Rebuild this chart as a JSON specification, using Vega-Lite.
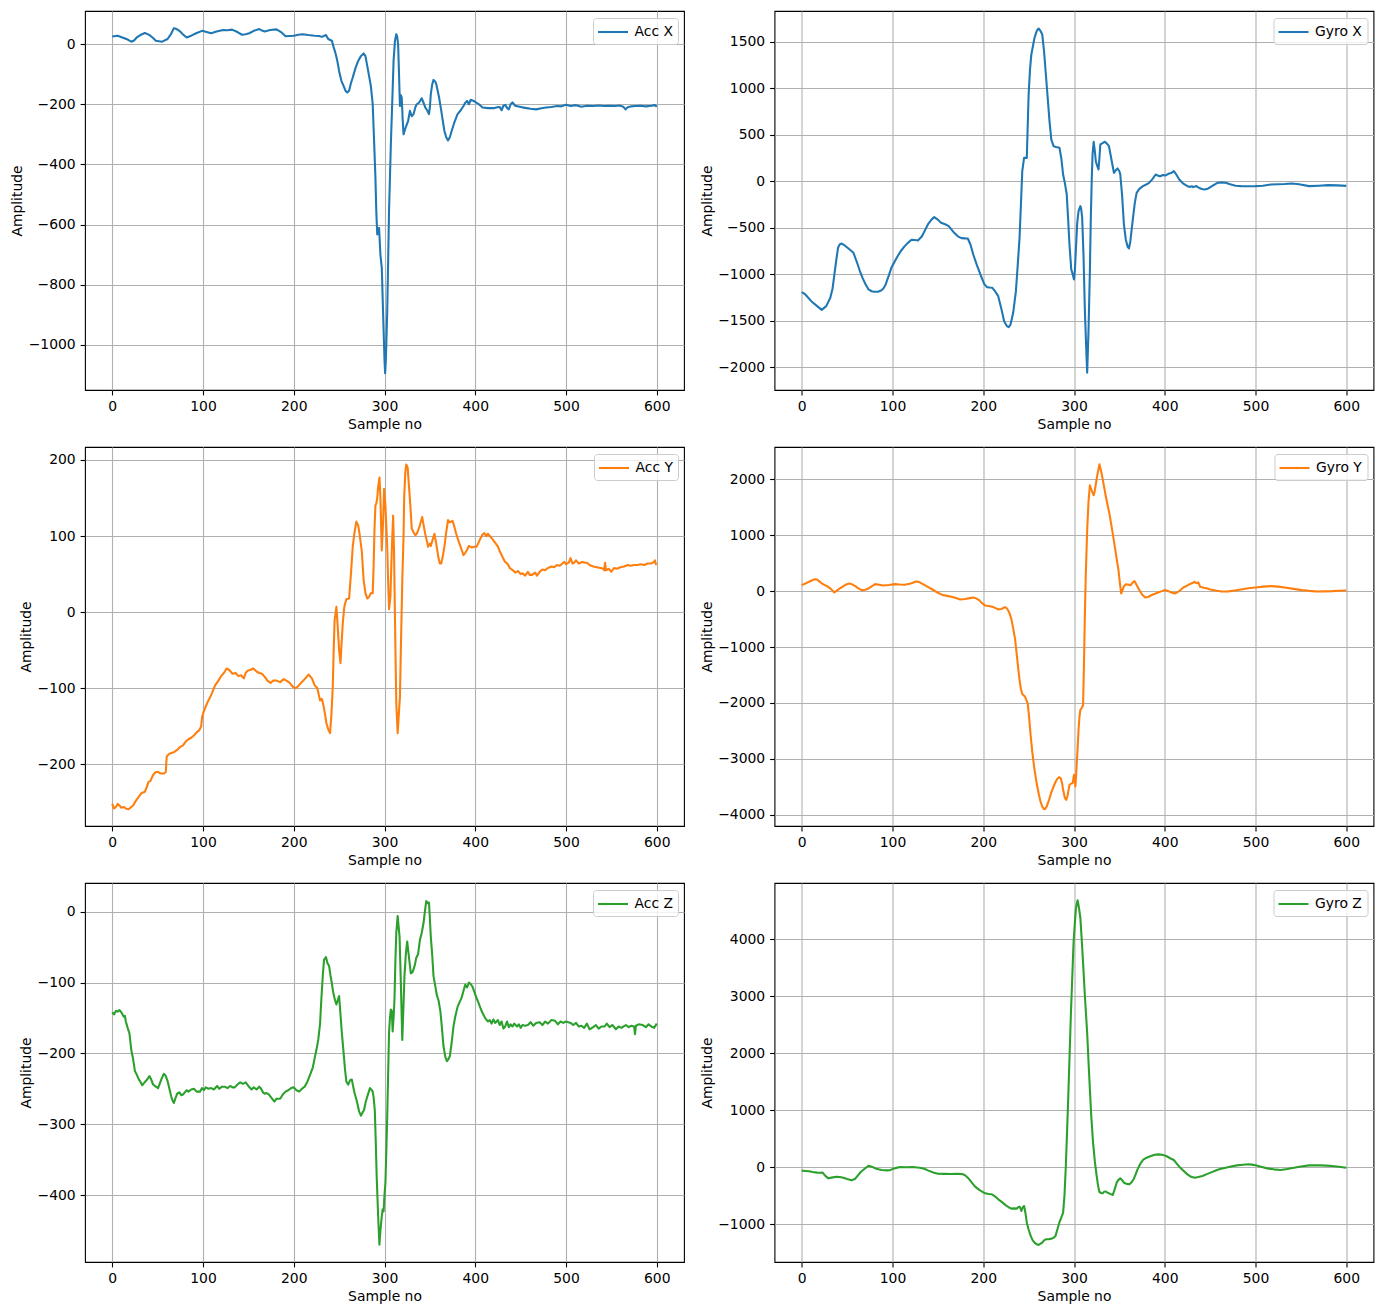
{
"$schema": "https://vega.github.io/schema/vega-lite/v6.json",
"background": "white",
"padding": {"left": 10, "top": 10, "right": 5, "bottom": 5},
"columns": 2,
"spacing": {"row": 14, "column": 14.5},
"resolve": {"scale": {"color": "independent"}, "legend": {"color": "independent"}},
"datasets": {
"accx": [{"x":0,"y":25},{"x":6,"y":28},{"x":12.6,"y":20},{"x":17,"y":15},{"x":21,"y":8},{"x":24,"y":12},{"x":27,"y":22},{"x":31,"y":30},{"x":36,"y":37},{"x":39,"y":33},{"x":42,"y":28},{"x":45,"y":20},{"x":48,"y":11},{"x":55,"y":8},{"x":61,"y":17},{"x":65,"y":35},{"x":68,"y":53},{"x":71,"y":50},{"x":74,"y":44},{"x":78,"y":32},{"x":82,"y":22},{"x":87,"y":28},{"x":92.5,"y":36},{"x":99,"y":44},{"x":104,"y":40},{"x":109,"y":36},{"x":115,"y":42},{"x":122,"y":47},{"x":127,"y":46},{"x":132,"y":48},{"x":138,"y":40},{"x":143,"y":31},{"x":147,"y":33},{"x":151,"y":36},{"x":156,"y":44},{"x":162,"y":50},{"x":165,"y":45},{"x":168,"y":42},{"x":174,"y":47},{"x":181,"y":49},{"x":186,"y":40},{"x":191,"y":26},{"x":195,"y":27},{"x":200,"y":28},{"x":205,"y":31},{"x":210,"y":33},{"x":216,"y":30},{"x":223,"y":28},{"x":228,"y":27},{"x":231,"y":24},{"x":235.5,"y":30},{"x":238,"y":17},{"x":242,"y":11},{"x":244,"y":-11},{"x":246,"y":-30},{"x":248,"y":-56},{"x":250,"y":-90},{"x":252.5,"y":-122},{"x":255,"y":-140},{"x":257,"y":-155},{"x":259,"y":-161},{"x":261,"y":-155},{"x":263,"y":-130},{"x":265,"y":-111},{"x":268,"y":-80},{"x":271,"y":-56},{"x":274,"y":-40},{"x":277,"y":-31},{"x":279,"y":-40},{"x":282,"y":-89},{"x":285,"y":-140},{"x":287,"y":-200},{"x":288.5,"y":-320},{"x":290,"y":-444},{"x":291,"y":-560},{"x":292,"y":-633},{"x":293,"y":-620},{"x":294,"y":-611},{"x":295.5,"y":-700},{"x":297,"y":-744},{"x":298.5,"y":-900},{"x":300,"y":-1050},{"x":300.7,"y":-1094},{"x":301.5,"y":-1050},{"x":303,"y":-889},{"x":305,"y":-556},{"x":307,"y":-333},{"x":309,"y":-150},{"x":310,"y":-56},{"x":311.5,"y":10},{"x":313,"y":33},{"x":314,"y":25},{"x":315,"y":0},{"x":316,"y":-100},{"x":317,"y":-206},{"x":318,"y":-170},{"x":319,"y":-178},{"x":320,"y":-250},{"x":321,"y":-300},{"x":323,"y":-280},{"x":326,"y":-256},{"x":328,"y":-222},{"x":330,"y":-240},{"x":332,"y":-233},{"x":334,"y":-210},{"x":335.5,"y":-200},{"x":338,"y":-195},{"x":341,"y":-180},{"x":343,"y":-195},{"x":345,"y":-211},{"x":347,"y":-220},{"x":349,"y":-233},{"x":350,"y":-210},{"x":351,"y":-167},{"x":352.5,"y":-135},{"x":354,"y":-119},{"x":356,"y":-125},{"x":357,"y":-133},{"x":360,"y":-175},{"x":362,"y":-211},{"x":364,"y":-250},{"x":366,"y":-289},{"x":368,"y":-310},{"x":370,"y":-320},{"x":372,"y":-310},{"x":374,"y":-289},{"x":377,"y":-260},{"x":380.5,"y":-233},{"x":384,"y":-220},{"x":387,"y":-206},{"x":389,"y":-195},{"x":391,"y":-189},{"x":393,"y":-200},{"x":395,"y":-185},{"x":399.5,"y":-191},{"x":404,"y":-200},{"x":408,"y":-211},{"x":414,"y":-213},{"x":420.5,"y":-213},{"x":424,"y":-210},{"x":427,"y":-209},{"x":429,"y":-220},{"x":431,"y":-205},{"x":433,"y":-202},{"x":435,"y":-212},{"x":437,"y":-217},{"x":439,"y":-200},{"x":441,"y":-194},{"x":444,"y":-205},{"x":450,"y":-209},{"x":455,"y":-212},{"x":461,"y":-215},{"x":467,"y":-217},{"x":473,"y":-213},{"x":478,"y":-211},{"x":484,"y":-209},{"x":490,"y":-206},{"x":495,"y":-207},{"x":500,"y":-202},{"x":505,"y":-206},{"x":511,"y":-203},{"x":517,"y":-208},{"x":523,"y":-205},{"x":530,"y":-206},{"x":536,"y":-204},{"x":542,"y":-206},{"x":548,"y":-205},{"x":554,"y":-206},{"x":559,"y":-204},{"x":563,"y":-208},{"x":565.6,"y":-217},{"x":568,"y":-210},{"x":572,"y":-207},{"x":576,"y":-206},{"x":582,"y":-205},{"x":588,"y":-207},{"x":594,"y":-205},{"x":598,"y":-203},{"x":600,"y":-208}],
"gyrox": [{"x":0,"y":-1190},{"x":4,"y":-1215},{"x":10.5,"y":-1287},{"x":17,"y":-1340},{"x":22,"y":-1380},{"x":27,"y":-1340},{"x":31.5,"y":-1251},{"x":34,"y":-1150},{"x":36,"y":-1000},{"x":38,"y":-850},{"x":40,"y":-713},{"x":42,"y":-675},{"x":44,"y":-667},{"x":47,"y":-685},{"x":50.5,"y":-713},{"x":57,"y":-767},{"x":61,"y":-874},{"x":64,"y":-960},{"x":67,"y":-1036},{"x":70,"y":-1100},{"x":73.6,"y":-1161},{"x":77,"y":-1180},{"x":80,"y":-1186},{"x":84,"y":-1185},{"x":87.5,"y":-1172},{"x":90,"y":-1150},{"x":92.5,"y":-1107},{"x":96,"y":-1010},{"x":99,"y":-921},{"x":105,"y":-814},{"x":109,"y":-750},{"x":113.5,"y":-695},{"x":117,"y":-660},{"x":121,"y":-627},{"x":125,"y":-630},{"x":128,"y":-634},{"x":132.5,"y":-588},{"x":136,"y":-520},{"x":139,"y":-462},{"x":143,"y":-410},{"x":146,"y":-383},{"x":150,"y":-410},{"x":153.5,"y":-444},{"x":158,"y":-460},{"x":162,"y":-480},{"x":168,"y":-552},{"x":172,"y":-590},{"x":176,"y":-609},{"x":180,"y":-612},{"x":183,"y":-613},{"x":186,"y":-680},{"x":189,"y":-785},{"x":193,"y":-900},{"x":197.6,"y":-1018},{"x":201,"y":-1100},{"x":204,"y":-1136},{"x":207,"y":-1140},{"x":210,"y":-1143},{"x":213,"y":-1180},{"x":216.5,"y":-1233},{"x":220,"y":-1370},{"x":223,"y":-1502},{"x":226,"y":-1555},{"x":228,"y":-1566},{"x":230,"y":-1540},{"x":233,"y":-1412},{"x":236,"y":-1179},{"x":238,"y":-900},{"x":240,"y":-606},{"x":241.5,"y":-250},{"x":243,"y":111},{"x":245,"y":254},{"x":248,"y":254},{"x":249,"y":600},{"x":250,"y":935},{"x":251.5,"y":1200},{"x":253,"y":1366},{"x":256.5,"y":1545},{"x":259,"y":1620},{"x":261,"y":1645},{"x":263,"y":1620},{"x":265,"y":1581},{"x":267,"y":1400},{"x":269,"y":1150},{"x":271,"y":900},{"x":273,"y":649},{"x":275,"y":450},{"x":277.5,"y":380},{"x":280,"y":370},{"x":284,"y":362},{"x":286,"y":250},{"x":288,"y":75},{"x":290,"y":-20},{"x":292,"y":-140},{"x":293.5,"y":-400},{"x":295,"y":-677},{"x":297,"y":-946},{"x":298.6,"y":-1000},{"x":300,"y":-1054},{"x":301,"y":-950},{"x":302,"y":-749},{"x":303.5,"y":-450},{"x":305,"y":-319},{"x":307,"y":-265},{"x":308,"y":-300},{"x":309,"y":-391},{"x":310.5,"y":-800},{"x":312,"y":-1395},{"x":313.5,"y":-1800},{"x":314.5,"y":-2057},{"x":316,"y":-1600},{"x":317.5,"y":-964},{"x":318.5,"y":-400},{"x":319.6,"y":39},{"x":320.5,"y":300},{"x":321.7,"y":427},{"x":323,"y":320},{"x":324,"y":220},{"x":325,"y":183},{"x":327,"y":129},{"x":328,"y":250},{"x":329,"y":398},{"x":331,"y":410},{"x":334,"y":427},{"x":336,"y":410},{"x":338.5,"y":380},{"x":341,"y":250},{"x":344,"y":93},{"x":346,"y":120},{"x":348,"y":140},{"x":350,"y":110},{"x":351,"y":75},{"x":353,"y":-150},{"x":355,"y":-462},{"x":357,"y":-620},{"x":359,"y":-700},{"x":360.5,"y":-720},{"x":362,"y":-650},{"x":365,"y":-391},{"x":367,"y":-230},{"x":369,"y":-122},{"x":372,"y":-80},{"x":376,"y":-50},{"x":380,"y":-30},{"x":382.7,"y":-14},{"x":386,"y":20},{"x":390,"y":75},{"x":393,"y":60},{"x":395,"y":57},{"x":398,"y":70},{"x":401,"y":65},{"x":404,"y":82},{"x":407,"y":90},{"x":410,"y":111},{"x":413,"y":70},{"x":416,"y":22},{"x":420,"y":-20},{"x":425,"y":-50},{"x":428,"y":-58},{"x":430,"y":-50},{"x":431,"y":-61},{"x":433,"y":-55},{"x":435,"y":-50},{"x":438,"y":-70},{"x":441,"y":-80},{"x":444,"y":-86},{"x":448,"y":-75},{"x":452,"y":-50},{"x":458,"y":-14},{"x":462,"y":-10},{"x":467,"y":-14},{"x":472,"y":-30},{"x":478,"y":-45},{"x":484,"y":-50},{"x":490,"y":-52},{"x":500,"y":-50},{"x":508,"y":-45},{"x":517,"y":-32},{"x":525,"y":-30},{"x":532,"y":-28},{"x":540,"y":-22},{"x":548,"y":-30},{"x":559,"y":-50},{"x":570,"y":-45},{"x":580,"y":-39},{"x":590,"y":-42},{"x":600,"y":-47}],
"accy": [{"x":0,"y":-252},{"x":2,"y":-258},{"x":4,"y":-256},{"x":6,"y":-252},{"x":8,"y":-254},{"x":10,"y":-257},{"x":12.6,"y":-256},{"x":15,"y":-258},{"x":18,"y":-259},{"x":21,"y":-256},{"x":23,"y":-254},{"x":26,"y":-248},{"x":29,"y":-243},{"x":32,"y":-238},{"x":36,"y":-236},{"x":38,"y":-230},{"x":40,"y":-223},{"x":42,"y":-222},{"x":45,"y":-214},{"x":48,"y":-210},{"x":50.5,"y":-210},{"x":53,"y":-212},{"x":57,"y":-212},{"x":59,"y":-210},{"x":60,"y":-190},{"x":62,"y":-187},{"x":65,"y":-185},{"x":68,"y":-184},{"x":71.5,"y":-181},{"x":75,"y":-177},{"x":78,"y":-175},{"x":81,"y":-170},{"x":84,"y":-167},{"x":87,"y":-165},{"x":90,"y":-162},{"x":93,"y":-158},{"x":96,"y":-155},{"x":98,"y":-150},{"x":99,"y":-138},{"x":101,"y":-130},{"x":103,"y":-124},{"x":106,"y":-116},{"x":109,"y":-109},{"x":111,"y":-103},{"x":113.5,"y":-96},{"x":117,"y":-90},{"x":120,"y":-84},{"x":123,"y":-80},{"x":126,"y":-74},{"x":129,"y":-76},{"x":132.5,"y":-81},{"x":136,"y":-80},{"x":139,"y":-84},{"x":142,"y":-83},{"x":145,"y":-87},{"x":147,"y":-80},{"x":149,"y":-77},{"x":152,"y":-76},{"x":155.5,"y":-74},{"x":159,"y":-78},{"x":162,"y":-80},{"x":165,"y":-81},{"x":168,"y":-85},{"x":171,"y":-90},{"x":174.5,"y":-93},{"x":177,"y":-90},{"x":181,"y":-90},{"x":185,"y":-92},{"x":189,"y":-88},{"x":192,"y":-90},{"x":195.5,"y":-93},{"x":199,"y":-98},{"x":202,"y":-100},{"x":205,"y":-97},{"x":208,"y":-93},{"x":212,"y":-88},{"x":216.5,"y":-82},{"x":220,"y":-87},{"x":223,"y":-96},{"x":226,"y":-100},{"x":229,"y":-116},{"x":231,"y":-114},{"x":233,"y":-124},{"x":235,"y":-138},{"x":236,"y":-146},{"x":238,"y":-154},{"x":240,"y":-159},{"x":241.5,"y":-135},{"x":243,"y":-98},{"x":244,"y":-50},{"x":245,"y":-11},{"x":247,"y":7},{"x":248.5,"y":-20},{"x":250,"y":-50},{"x":251.5,"y":-67},{"x":252.5,"y":-45},{"x":254,"y":-15},{"x":255.5,"y":5},{"x":256.5,"y":11},{"x":258,"y":17},{"x":261,"y":18},{"x":263,"y":50},{"x":265,"y":86},{"x":267,"y":105},{"x":269,"y":119},{"x":271,"y":114},{"x":272.5,"y":103},{"x":275,"y":80},{"x":277,"y":42},{"x":279,"y":25},{"x":281,"y":18},{"x":283,"y":20},{"x":285,"y":25},{"x":287,"y":25},{"x":288,"y":60},{"x":289,"y":110},{"x":290,"y":140},{"x":291,"y":143},{"x":292,"y":150},{"x":293,"y":165},{"x":294.5,"y":177},{"x":295.5,"y":150},{"x":297,"y":81},{"x":298.5,"y":120},{"x":299.5,"y":162},{"x":301,"y":140},{"x":303,"y":86},{"x":304,"y":40},{"x":305,"y":4},{"x":306.5,"y":20},{"x":308,"y":80},{"x":309.5,"y":127},{"x":310.5,"y":80},{"x":312,"y":-46},{"x":313,"y":-120},{"x":314.5,"y":-159},{"x":316,"y":-130},{"x":317,"y":-111},{"x":318,"y":-50},{"x":319.6,"y":42},{"x":321,"y":100},{"x":321.7,"y":152},{"x":323,"y":185},{"x":324,"y":194},{"x":325.5,"y":190},{"x":327,"y":165},{"x":328.5,"y":140},{"x":330,"y":110},{"x":332,"y":105},{"x":334,"y":101},{"x":336,"y":104},{"x":338.5,"y":112},{"x":341.5,"y":125},{"x":343,"y":115},{"x":345,"y":102},{"x":347,"y":92},{"x":348,"y":86},{"x":350,"y":90},{"x":351,"y":87},{"x":353,"y":95},{"x":355,"y":103},{"x":357,"y":90},{"x":359.5,"y":71},{"x":361,"y":64},{"x":362.5,"y":64},{"x":364,"y":72},{"x":366,"y":86},{"x":368,"y":105},{"x":370,"y":121},{"x":372,"y":118},{"x":375,"y":120},{"x":377,"y":112},{"x":379,"y":103},{"x":382,"y":92},{"x":385,"y":82},{"x":387,"y":75},{"x":389,"y":78},{"x":391,"y":82},{"x":393,"y":87},{"x":396,"y":85},{"x":399,"y":86},{"x":401.6,"y":86},{"x":405,"y":95},{"x":408,"y":102},{"x":410,"y":104},{"x":412,"y":100},{"x":414,"y":103},{"x":416,"y":100},{"x":419,"y":96},{"x":422.6,"y":90},{"x":425,"y":86},{"x":427,"y":80},{"x":429,"y":75},{"x":431,"y":70},{"x":433,"y":66},{"x":436,"y":63},{"x":438,"y":58},{"x":441.5,"y":55},{"x":444,"y":52},{"x":447,"y":54},{"x":450,"y":50},{"x":452,"y":51},{"x":455,"y":48},{"x":458,"y":53},{"x":460,"y":49},{"x":462.6,"y":49},{"x":466,"y":52},{"x":468,"y":48},{"x":471,"y":53},{"x":474,"y":56},{"x":477,"y":55},{"x":480,"y":58},{"x":484,"y":60},{"x":487,"y":59},{"x":490,"y":62},{"x":493,"y":61},{"x":496,"y":64},{"x":498,"y":66},{"x":500,"y":63},{"x":503,"y":65},{"x":505,"y":71},{"x":507,"y":64},{"x":509,"y":65},{"x":511,"y":68},{"x":514,"y":64},{"x":518,"y":66},{"x":521,"y":65},{"x":523,"y":65},{"x":526,"y":62},{"x":530,"y":60},{"x":534,"y":59},{"x":538,"y":58},{"x":541,"y":57},{"x":542,"y":55},{"x":543,"y":65},{"x":544,"y":55},{"x":547,"y":57},{"x":550,"y":53},{"x":551,"y":55},{"x":553,"y":58},{"x":556,"y":57},{"x":560,"y":59},{"x":564,"y":60},{"x":568,"y":62},{"x":571,"y":61},{"x":575,"y":62},{"x":579,"y":62},{"x":582,"y":63},{"x":586,"y":62},{"x":590,"y":64},{"x":594,"y":64},{"x":597,"y":66},{"x":598,"y":68},{"x":599,"y":63},{"x":600,"y":64}],
"gyroy": [{"x":0,"y":107},{"x":4,"y":135},{"x":8,"y":167},{"x":11,"y":190},{"x":14.7,"y":214},{"x":17,"y":205},{"x":19,"y":179},{"x":22,"y":140},{"x":25,"y":110},{"x":28,"y":89},{"x":32,"y":40},{"x":36,"y":-24},{"x":39,"y":15},{"x":42,"y":48},{"x":46,"y":90},{"x":49,"y":120},{"x":52.5,"y":137},{"x":55,"y":125},{"x":59,"y":89},{"x":62,"y":55},{"x":66,"y":18},{"x":70,"y":25},{"x":73.6,"y":48},{"x":77,"y":85},{"x":81,"y":125},{"x":85,"y":115},{"x":90,"y":101},{"x":96,"y":110},{"x":103,"y":125},{"x":108,"y":118},{"x":113.5,"y":113},{"x":119,"y":130},{"x":123,"y":155},{"x":126,"y":173},{"x":129,"y":165},{"x":133,"y":130},{"x":139,"y":77},{"x":145,"y":20},{"x":150,"y":-30},{"x":155.5,"y":-71},{"x":160,"y":-85},{"x":165,"y":-100},{"x":170,"y":-125},{"x":174.5,"y":-149},{"x":180,"y":-140},{"x":185,"y":-125},{"x":189,"y":-113},{"x":192,"y":-130},{"x":195.5,"y":-161},{"x":199,"y":-220},{"x":202,"y":-256},{"x":206,"y":-265},{"x":210,"y":-280},{"x":213,"y":-300},{"x":216.5,"y":-327},{"x":220,"y":-320},{"x":223,"y":-290},{"x":225,"y":-292},{"x":227,"y":-330},{"x":229,"y":-399},{"x":231,"y":-500},{"x":233,"y":-667},{"x":235,"y":-850},{"x":236,"y":-994},{"x":238,"y":-1300},{"x":240,"y":-1589},{"x":241.5,"y":-1750},{"x":243,"y":-1839},{"x":245,"y":-1870},{"x":246,"y":-1887},{"x":247.5,"y":-1950},{"x":249,"y":-2006},{"x":250.5,"y":-2250},{"x":252,"y":-2541},{"x":254,"y":-2870},{"x":256.5,"y":-3196},{"x":259,"y":-3450},{"x":261,"y":-3613},{"x":263,"y":-3760},{"x":265,"y":-3851},{"x":266.5,"y":-3890},{"x":268,"y":-3899},{"x":270,"y":-3850},{"x":272.5,"y":-3732},{"x":275,"y":-3600},{"x":277.5,"y":-3494},{"x":280,"y":-3400},{"x":282,"y":-3350},{"x":284,"y":-3327},{"x":285.5,"y":-3350},{"x":287,"y":-3450},{"x":288,"y":-3553},{"x":290,"y":-3700},{"x":291.5,"y":-3732},{"x":293,"y":-3650},{"x":295,"y":-3464},{"x":297,"y":-3440},{"x":298.6,"y":-3434},{"x":299.5,"y":-3330},{"x":300,"y":-3286},{"x":301,"y":-3400},{"x":301.5,"y":-3494},{"x":302.5,"y":-3250},{"x":303,"y":-3077},{"x":304,"y":-2800},{"x":305,"y":-2482},{"x":306,"y":-2250},{"x":307,"y":-2125},{"x":308.5,"y":-2090},{"x":310,"y":-2036},{"x":311,"y":-1300},{"x":312,"y":-399},{"x":313,"y":300},{"x":314.5,"y":1089},{"x":316,"y":1600},{"x":317.5,"y":1893},{"x":319,"y":1820},{"x":320.5,"y":1760},{"x":321.7,"y":1714},{"x":323,"y":1800},{"x":325,"y":2012},{"x":326,"y":2100},{"x":327,"y":2180},{"x":328,"y":2268},{"x":329,"y":2200},{"x":330.5,"y":2100},{"x":332.5,"y":1923},{"x":335,"y":1700},{"x":337,"y":1540},{"x":339,"y":1387},{"x":342,"y":1100},{"x":345,"y":792},{"x":347,"y":580},{"x":349,"y":375},{"x":350.5,"y":150},{"x":352,"y":-42},{"x":353.5,"y":20},{"x":355,"y":89},{"x":357,"y":120},{"x":359.5,"y":119},{"x":361,"y":110},{"x":362.5,"y":107},{"x":364.5,"y":150},{"x":366.6,"y":179},{"x":369,"y":110},{"x":372,"y":18},{"x":375,"y":-60},{"x":378.5,"y":-113},{"x":382,"y":-100},{"x":387,"y":-60},{"x":392,"y":-30},{"x":396,"y":-5},{"x":399.5,"y":18},{"x":404,"y":0},{"x":408,"y":-30},{"x":411,"y":-42},{"x":414,"y":-20},{"x":417,"y":15},{"x":420.5,"y":65},{"x":424,"y":95},{"x":427,"y":120},{"x":429,"y":137},{"x":431,"y":150},{"x":433,"y":167},{"x":435,"y":140},{"x":437,"y":155},{"x":439,"y":77},{"x":443,"y":60},{"x":447,"y":45},{"x":450,"y":30},{"x":456,"y":10},{"x":462.6,"y":-6},{"x":470,"y":-5},{"x":477,"y":10},{"x":484,"y":30},{"x":492,"y":50},{"x":500,"y":65},{"x":508,"y":80},{"x":517,"y":89},{"x":525,"y":80},{"x":534,"y":60},{"x":542,"y":40},{"x":551,"y":18},{"x":559,"y":5},{"x":568,"y":-6},{"x":576,"y":-4},{"x":584.5,"y":0},{"x":592,"y":8},{"x":600,"y":12}],
"accz": [{"x":0,"y":-142},{"x":2,"y":-145},{"x":4,"y":-140},{"x":6,"y":-141},{"x":8,"y":-139},{"x":10,"y":-142},{"x":12.6,"y":-148},{"x":14,"y":-147},{"x":15,"y":-155},{"x":17,"y":-164},{"x":19,"y":-172},{"x":21,"y":-195},{"x":23,"y":-208},{"x":25,"y":-225},{"x":27,"y":-230},{"x":29.4,"y":-237},{"x":31,"y":-240},{"x":33,"y":-245},{"x":35,"y":-242},{"x":37,"y":-239},{"x":39,"y":-236},{"x":41,"y":-232},{"x":43,"y":-237},{"x":45,"y":-244},{"x":48,"y":-247},{"x":50.5,"y":-249},{"x":52,"y":-244},{"x":54,"y":-237},{"x":56,"y":-231},{"x":57,"y":-229},{"x":59,"y":-232},{"x":61,"y":-239},{"x":63,"y":-250},{"x":65,"y":-261},{"x":67,"y":-268},{"x":68,"y":-270},{"x":70,"y":-262},{"x":71.5,"y":-257},{"x":74,"y":-255},{"x":76,"y":-259},{"x":78,"y":-258},{"x":80,"y":-255},{"x":82,"y":-252},{"x":84,"y":-254},{"x":87,"y":-251},{"x":90,"y":-250},{"x":93,"y":-254},{"x":96.7,"y":-254},{"x":99,"y":-249},{"x":101,"y":-252},{"x":103,"y":-248},{"x":106,"y":-250},{"x":109,"y":-249},{"x":112,"y":-251},{"x":115.6,"y":-246},{"x":118,"y":-250},{"x":121,"y":-247},{"x":124,"y":-247},{"x":127,"y":-249},{"x":130,"y":-246},{"x":132.5,"y":-248},{"x":135,"y":-248},{"x":138,"y":-244},{"x":141,"y":-241},{"x":144,"y":-243},{"x":147,"y":-241},{"x":150,"y":-246},{"x":153.5,"y":-251},{"x":156,"y":-248},{"x":159,"y":-251},{"x":162,"y":-247},{"x":164,"y":-250},{"x":166,"y":-255},{"x":168,"y":-257},{"x":170,"y":-256},{"x":172.5,"y":-258},{"x":175,"y":-262},{"x":178.7,"y":-268},{"x":181,"y":-264},{"x":185,"y":-264},{"x":188,"y":-258},{"x":191,"y":-254},{"x":194,"y":-252},{"x":197,"y":-249},{"x":200,"y":-248},{"x":203,"y":-252},{"x":206,"y":-254},{"x":209,"y":-250},{"x":212,"y":-247},{"x":215,"y":-240},{"x":218.7,"y":-228},{"x":221,"y":-220},{"x":223,"y":-207},{"x":225,"y":-195},{"x":227,"y":-181},{"x":229,"y":-158},{"x":230.4,"y":-124},{"x":232,"y":-90},{"x":233.4,"y":-68},{"x":235.5,"y":-64},{"x":237,"y":-72},{"x":239,"y":-77},{"x":240.5,"y":-90},{"x":242,"y":-101},{"x":243,"y":-110},{"x":244,"y":-117},{"x":245.5,"y":-125},{"x":247,"y":-131},{"x":248.5,"y":-125},{"x":250,"y":-119},{"x":251.5,"y":-145},{"x":253,"y":-171},{"x":255,"y":-200},{"x":256.5,"y":-223},{"x":258,"y":-240},{"x":260,"y":-244},{"x":262,"y":-238},{"x":264,"y":-237},{"x":266,"y":-250},{"x":267,"y":-256},{"x":269,"y":-265},{"x":270,"y":-270},{"x":272,"y":-282},{"x":274,"y":-288},{"x":276,"y":-283},{"x":277.5,"y":-280},{"x":279,"y":-270},{"x":281,"y":-261},{"x":283,"y":-253},{"x":284,"y":-249},{"x":286,"y":-252},{"x":287,"y":-254},{"x":288,"y":-262},{"x":289.3,"y":-280},{"x":290.5,"y":-330},{"x":291.4,"y":-374},{"x":293,"y":-430},{"x":294.4,"y":-470},{"x":295.5,"y":-450},{"x":297,"y":-430},{"x":298,"y":-420},{"x":299,"y":-423},{"x":300,"y":-400},{"x":301,"y":-383},{"x":302,"y":-340},{"x":303,"y":-289},{"x":304,"y":-230},{"x":305,"y":-171},{"x":306,"y":-150},{"x":307,"y":-138},{"x":308,"y":-140},{"x":309,"y":-169},{"x":310,"y":-150},{"x":311,"y":-124},{"x":312,"y":-70},{"x":313,"y":-30},{"x":314.5,"y":-6},{"x":315.5,"y":-20},{"x":316.6,"y":-35},{"x":318,"y":-100},{"x":319.6,"y":-181},{"x":321,"y":-130},{"x":322,"y":-91},{"x":323.5,"y":-60},{"x":325,"y":-42},{"x":327,"y":-65},{"x":329,"y":-87},{"x":331,"y":-85},{"x":332,"y":-81},{"x":333.5,"y":-75},{"x":335,"y":-65},{"x":337,"y":-60},{"x":339,"y":-40},{"x":341,"y":-30},{"x":343,"y":-16},{"x":344.5,"y":0},{"x":346,"y":15},{"x":347.5,"y":12},{"x":349,"y":13},{"x":350,"y":-10},{"x":351,"y":-35},{"x":352.5,"y":-60},{"x":354,"y":-91},{"x":356,"y":-105},{"x":357.5,"y":-117},{"x":359.5,"y":-125},{"x":361.6,"y":-141},{"x":363,"y":-160},{"x":365,"y":-190},{"x":367,"y":-205},{"x":368.8,"y":-211},{"x":370,"y":-209},{"x":372,"y":-204},{"x":374,"y":-185},{"x":376,"y":-162},{"x":378,"y":-148},{"x":380.6,"y":-134},{"x":383,"y":-127},{"x":384.8,"y":-122},{"x":387,"y":-112},{"x":389,"y":-103},{"x":391,"y":-107},{"x":393,"y":-100},{"x":395,"y":-102},{"x":397,"y":-106},{"x":399.5,"y":-115},{"x":401.5,"y":-122},{"x":403.7,"y":-129},{"x":406,"y":-137},{"x":408,"y":-143},{"x":410,"y":-148},{"x":412,"y":-152},{"x":414,"y":-155},{"x":416,"y":-153},{"x":418,"y":-158},{"x":420,"y":-152},{"x":422,"y":-157},{"x":425,"y":-153},{"x":427,"y":-160},{"x":429,"y":-155},{"x":431,"y":-165},{"x":433,"y":-162},{"x":435,"y":-155},{"x":437,"y":-163},{"x":439,"y":-159},{"x":441,"y":-162},{"x":443,"y":-158},{"x":446,"y":-162},{"x":448,"y":-159},{"x":450,"y":-164},{"x":452,"y":-160},{"x":455,"y":-161},{"x":458,"y":-160},{"x":461,"y":-156},{"x":464,"y":-161},{"x":467,"y":-157},{"x":471,"y":-156},{"x":474,"y":-160},{"x":477,"y":-155},{"x":480,"y":-158},{"x":484,"y":-153},{"x":488,"y":-154},{"x":491,"y":-159},{"x":494,"y":-155},{"x":497,"y":-157},{"x":500,"y":-155},{"x":505,"y":-157},{"x":508,"y":-160},{"x":511,"y":-157},{"x":514,"y":-162},{"x":517,"y":-161},{"x":520,"y":-164},{"x":523,"y":-158},{"x":526,"y":-166},{"x":530,"y":-163},{"x":533,"y":-160},{"x":536,"y":-165},{"x":539,"y":-162},{"x":542.5,"y":-162},{"x":545,"y":-158},{"x":548,"y":-163},{"x":551,"y":-160},{"x":555,"y":-166},{"x":558,"y":-162},{"x":561,"y":-164},{"x":563.5,"y":-162},{"x":566,"y":-160},{"x":569,"y":-163},{"x":572,"y":-161},{"x":575,"y":-162},{"x":576,"y":-173},{"x":577,"y":-161},{"x":580,"y":-159},{"x":584.5,"y":-160},{"x":588,"y":-163},{"x":591,"y":-159},{"x":594,"y":-162},{"x":597,"y":-164},{"x":600,"y":-158}],
"gyroz": [{"x":0,"y":-58},{"x":4,"y":-63},{"x":8,"y":-70},{"x":12,"y":-82},{"x":17,"y":-93},{"x":20,"y":-95},{"x":23,"y":-93},{"x":26,"y":-150},{"x":29.4,"y":-193},{"x":33,"y":-180},{"x":38,"y":-164},{"x":42,"y":-170},{"x":46,"y":-181},{"x":50,"y":-205},{"x":55,"y":-228},{"x":59,"y":-199},{"x":62,"y":-140},{"x":65,"y":-82},{"x":69,"y":-30},{"x":73.6,"y":29},{"x":78,"y":5},{"x":82,"y":-23},{"x":88,"y":-45},{"x":94.6,"y":-53},{"x":98,"y":-45},{"x":101,"y":-23},{"x":105,"y":-5},{"x":109,"y":6},{"x":115,"y":3},{"x":122,"y":5},{"x":130,"y":-6},{"x":135,"y":-25},{"x":139,"y":-53},{"x":145,"y":-90},{"x":150,"y":-111},{"x":157,"y":-115},{"x":164.5,"y":-117},{"x":171,"y":-115},{"x":177,"y":-117},{"x":180,"y":-140},{"x":183,"y":-181},{"x":187,"y":-260},{"x":191,"y":-339},{"x":196,"y":-400},{"x":202,"y":-456},{"x":206,"y":-468},{"x":209.4,"y":-473},{"x":213,"y":-510},{"x":216.6,"y":-561},{"x":221,"y":-615},{"x":225,"y":-666},{"x":228,"y":-700},{"x":231,"y":-724},{"x":234,"y":-720},{"x":236.8,"y":-724},{"x":238.5,"y":-700},{"x":240,"y":-689},{"x":241,"y":-720},{"x":242,"y":-765},{"x":243.5,"y":-700},{"x":245,"y":-678},{"x":246.5,"y":-800},{"x":248,"y":-970},{"x":250,"y":-1090},{"x":252.3,"y":-1203},{"x":254.5,"y":-1280},{"x":256.5,"y":-1320},{"x":259,"y":-1350},{"x":261,"y":-1361},{"x":263,"y":-1340},{"x":265,"y":-1320},{"x":267,"y":-1280},{"x":269,"y":-1262},{"x":272,"y":-1260},{"x":275.4,"y":-1250},{"x":277.5,"y":-1235},{"x":279.6,"y":-1203},{"x":281.5,"y":-1100},{"x":283.8,"y":-970},{"x":286,"y":-880},{"x":288,"y":-794},{"x":289.5,"y":-500},{"x":291,"y":23},{"x":292.3,"y":600},{"x":293.6,"y":1192},{"x":295,"y":1900},{"x":296.5,"y":2652},{"x":298,"y":3300},{"x":299.5,"y":3937},{"x":301,"y":4300},{"x":302,"y":4521},{"x":303,"y":4620},{"x":304,"y":4684},{"x":305.5,"y":4550},{"x":307,"y":4375},{"x":308.5,"y":4000},{"x":310,"y":3586},{"x":312,"y":3000},{"x":314.5,"y":2360},{"x":316,"y":1850},{"x":317.5,"y":1367},{"x":319,"y":900},{"x":321,"y":432},{"x":323,"y":100},{"x":325,"y":-152},{"x":326.5,"y":-320},{"x":328,"y":-432},{"x":330,"y":-450},{"x":331.6,"y":-456},{"x":333,"y":-430},{"x":334.5,"y":-421},{"x":336.5,"y":-440},{"x":338.6,"y":-456},{"x":340.5,"y":-470},{"x":342.7,"y":-485},{"x":344.5,"y":-400},{"x":347,"y":-269},{"x":349,"y":-220},{"x":351,"y":-193},{"x":353,"y":-225},{"x":355,"y":-269},{"x":358,"y":-290},{"x":361,"y":-298},{"x":363.5,"y":-260},{"x":366,"y":-199},{"x":368,"y":-120},{"x":370,"y":-35},{"x":373,"y":60},{"x":376,"y":129},{"x":380,"y":170},{"x":384.8,"y":199},{"x":389,"y":220},{"x":393,"y":228},{"x":397,"y":220},{"x":401.6,"y":199},{"x":406,"y":160},{"x":410,"y":129},{"x":413,"y":70},{"x":416,"y":12},{"x":420,"y":-50},{"x":425,"y":-123},{"x":429,"y":-165},{"x":433,"y":-181},{"x":437,"y":-170},{"x":441.5,"y":-152},{"x":447,"y":-115},{"x":454,"y":-70},{"x":460,"y":-35},{"x":467,"y":-6},{"x":473,"y":15},{"x":479.5,"y":35},{"x":486,"y":45},{"x":492,"y":53},{"x":496,"y":48},{"x":500,"y":35},{"x":506,"y":10},{"x":513,"y":-18},{"x":520,"y":-35},{"x":527.8,"y":-47},{"x":535,"y":-30},{"x":542.5,"y":-6},{"x":550,"y":15},{"x":559,"y":35},{"x":565,"y":38},{"x":572,"y":35},{"x":578,"y":30},{"x":584.5,"y":23},{"x":592,"y":10},{"x":600,"y":-6}]
},
"concat": [
{"data": {"name": "accx"}, "width": 599, "height": 379, "mark": {"type": "line"},
 "encoding": {
  "x": {"field": "x", "type": "quantitative", "scale": {"domain": [-30, 630], "nice": false, "zero": false}, "axis": {"values": [0,100,200,300,400,500,600], "title": "Sample no"}},
  "y": {"field": "y", "type": "quantitative", "scale": {"domain": [-1150, 110], "nice": false, "zero": false}, "axis": {"values": [-1000,-800,-600,-400,-200,0], "title": "Amplitude"}},
  "color": {"datum": "Acc X", "scale": {"domain": ["Acc X"], "range": ["#1f77b4"]}, "legend": {"title": null}}}},
{"data": {"name": "gyrox"}, "width": 599, "height": 379, "mark": {"type": "line"},
 "encoding": {
  "x": {"field": "x", "type": "quantitative", "scale": {"domain": [-30, 630], "nice": false, "zero": false}, "axis": {"values": [0,100,200,300,400,500,600], "title": "Sample no"}},
  "y": {"field": "y", "type": "quantitative", "scale": {"domain": [-2242, 1833], "nice": false, "zero": false}, "axis": {"values": [-2000,-1500,-1000,-500,0,500,1000,1500], "title": "Amplitude"}},
  "color": {"datum": "Gyro X", "scale": {"domain": ["Gyro X"], "range": ["#1f77b4"]}, "legend": {"title": null}}}},
{"data": {"name": "accy"}, "width": 599, "height": 379, "mark": {"type": "line"},
 "encoding": {
  "x": {"field": "x", "type": "quantitative", "scale": {"domain": [-30, 630], "nice": false, "zero": false}, "axis": {"values": [0,100,200,300,400,500,600], "title": "Sample no"}},
  "y": {"field": "y", "type": "quantitative", "scale": {"domain": [-281, 217], "nice": false, "zero": false}, "axis": {"values": [-200,-100,0,100,200], "title": "Amplitude"}},
  "color": {"datum": "Acc Y", "scale": {"domain": ["Acc Y"], "range": ["#ff7f0e"]}, "legend": {"title": null}}}},
{"data": {"name": "gyroy"}, "width": 599, "height": 379, "mark": {"type": "line"},
 "encoding": {
  "x": {"field": "x", "type": "quantitative", "scale": {"domain": [-30, 630], "nice": false, "zero": false}, "axis": {"values": [0,100,200,300,400,500,600], "title": "Sample no"}},
  "y": {"field": "y", "type": "quantitative", "scale": {"domain": [-4200, 2577], "nice": false, "zero": false}, "axis": {"values": [-4000,-3000,-2000,-1000,0,1000,2000], "title": "Amplitude"}},
  "color": {"datum": "Gyro Y", "scale": {"domain": ["Gyro Y"], "range": ["#ff7f0e"]}, "legend": {"title": null}}}},
{"data": {"name": "accz"}, "width": 599, "height": 379, "mark": {"type": "line"},
 "encoding": {
  "x": {"field": "x", "type": "quantitative", "scale": {"domain": [-30, 630], "nice": false, "zero": false}, "axis": {"values": [0,100,200,300,400,500,600], "title": "Sample no"}},
  "y": {"field": "y", "type": "quantitative", "scale": {"domain": [-494.5, 40.5], "nice": false, "zero": false}, "axis": {"values": [-400,-300,-200,-100,0], "title": "Amplitude"}},
  "color": {"datum": "Acc Z", "scale": {"domain": ["Acc Z"], "range": ["#2ca02c"]}, "legend": {"title": null}}}},
{"data": {"name": "gyroz"}, "width": 599, "height": 379, "mark": {"type": "line"},
 "encoding": {
  "x": {"field": "x", "type": "quantitative", "scale": {"domain": [-30, 630], "nice": false, "zero": false}, "axis": {"values": [0,100,200,300,400,500,600], "title": "Sample no"}},
  "y": {"field": "y", "type": "quantitative", "scale": {"domain": [-1660, 4987], "nice": false, "zero": false}, "axis": {"values": [-1000,0,1000,2000,3000,4000], "title": "Amplitude"}},
  "color": {"datum": "Gyro Z", "scale": {"domain": ["Gyro Z"], "range": ["#2ca02c"]}, "legend": {"title": null}}}}
],
"config": {
 "font": "DejaVu Sans",
 "view": {"stroke": "black", "strokeWidth": 1.1},
 "axis": {"format": "d", "domain": false, "grid": true, "gridColor": "#b0b0b0", "gridWidth": 1.1, "gridOpacity": 1, "ticks": true, "tickColor": "black", "tickSize": 4.9, "tickWidth": 1.1, "labelFont": "DejaVu Sans", "labelFontSize": 13.9, "labelColor": "black", "labelPadding": 4.9, "titleFont": "DejaVu Sans", "titleFontSize": 13.9, "titleFontWeight": "normal", "titleColor": "black", "titlePadding": 3.6},
 "legend": {"orient": "top-right", "offset": 6.5, "padding": 5, "strokeColor": "#cccccc", "fillColor": "rgba(255,255,255,0.8)", "cornerRadius": 3, "symbolType": "M-2,0H2", "symbolSize": 225, "symbolOffset": 6, "symbolStrokeWidth": 2.08, "labelFont": "DejaVu Sans", "labelFontSize": 13.9, "labelColor": "black", "labelOffset": 12.5},
 "line": {"strokeWidth": 2.08, "strokeJoin": "round"}
}
}
